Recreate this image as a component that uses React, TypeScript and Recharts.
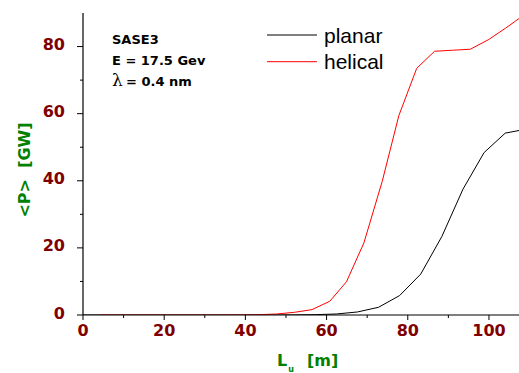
import React from 'react';
import { LineChart, Line, XAxis, YAxis, Legend } from 'recharts';

const planarL = [0, 5.2, 10.4, 15.6, 20.8, 26, 31.2, 36.4, 41.6, 46.8, 52, 57.2, 62.4, 67.6, 72.8, 78, 83.2, 88.4, 93.6, 98.8, 104, 109.2];
const planarP = [0, 0, 0, 0, 0, 0, 0, 0, 0, 0, 0.02, 0.1, 0.3, 0.9, 2.3, 5.8, 12.2, 23.4, 37.5, 48.4, 54.2, 55.4];

const helicalL = [4.2, 8.55, 12.9, 17.25, 21.6, 25.95, 30.3, 34.65, 39, 43.35, 47.7, 52.05, 56.4, 60.8, 64.9, 69.2, 73.7, 77.8, 82.2, 86.6, 91, 95.4, 99.8, 104, 108.5];
const helicalP = [0, 0, 0, 0, 0, 0, 0, 0, 0.02, 0.1, 0.3, 0.8, 1.6, 4.1, 9.9, 21.5, 39.8, 59.4, 73.5, 78.6, 78.9, 79.2, 82.0, 85.4, 89.3];

const seriesNames = ['planar', 'helical'];

const xTicks = [0, 10, 20, 30, 40, 50, 60, 70, 80, 90, 100];
const xMajor = [0, 20, 40, 60, 80, 100];
const yTicks = [0, 10, 20, 30, 40, 50, 60, 70, 80];
const yMajor = [0, 20, 40, 60, 80];

const annotations = ['SASE3', 'E = 17.5 Gev'];

const planarData = planarL.map((l, i) => ({ l, p: planarP[i] }));
const helicalData = helicalL.map((l, i) => ({ l, p: helicalP[i] }));

const FONT = '"DejaVu Sans", Verdana, sans-serif';
const TICK_COLOR = '#800000';
const LABEL_COLOR = '#008000';

const BottomTick = (props: any) => {
  const { x, y, payload } = props;
  const major = xMajor.includes(payload.value);
  return (
    <g>
      <line x1={x} x2={x} y1={y} y2={y + (major ? 5 : 3)} stroke="#000" strokeWidth={1} />
      {major && (
        <text x={x} y={y + 21} textAnchor="middle" fontFamily={FONT} fontWeight="bold" fontSize={16} fill={TICK_COLOR}>
          {payload.value}
        </text>
      )}
    </g>
  );
};

const TopTick = (props: any) => {
  const { x, y, payload } = props;
  const major = xMajor.includes(payload.value);
  return <line x1={x} x2={x} y1={y} y2={y + (major ? 5 : 2)} stroke="#222" strokeWidth={1} />;
};

const LeftTick = (props: any) => {
  const { x, y, payload } = props;
  const major = yMajor.includes(payload.value);
  return (
    <g>
      <line x1={x - (major ? 6 : 3)} x2={x} y1={y} y2={y} stroke="#000" strokeWidth={1} />
      {major && (
        <text x={x - 18} y={y + 3.5} textAnchor="end" fontFamily={FONT} fontWeight="bold" fontSize={16} fill={TICK_COLOR}>
          {payload.value}
        </text>
      )}
    </g>
  );
};

const XLabel = () => (
  <text x={277} y={366} fontFamily={FONT} fontWeight="bold" fontSize={16} fill={LABEL_COLOR}>
    L
    <tspan fontSize={8} dy={6} dx={1}>u</tspan>
    <tspan x={307} dy={-6}>[m]</tspan>
  </text>
);

const YLabel = () => (
  <text
    x={30}
    y={170}
    transform="rotate(-90, 30, 170)"
    textAnchor="middle"
    fontFamily={FONT}
    fontWeight="bold"
    fontSize={16}
    fill={LABEL_COLOR}
  >
    {'<P>\u00A0\u00A0[GW]'}
  </text>
);

const LegendContent = (props: any) => {
  const payload = [...(props.payload || [])].sort(
    (a: any, b: any) => seriesNames.indexOf(a.value) - seriesNames.indexOf(b.value)
  );
  return (
    <svg width={140} height={60} style={{ display: 'block' }}>
      {payload.map((entry: any, i: number) => (
        <g key={entry.value}>
          <line x1={5} x2={55} y1={17 + i * 26.7} y2={17 + i * 26.7} stroke={entry.color} strokeWidth={1} />
          <text x={62} y={24.5 + i * 26} fontFamily='"Liberation Sans", Arial, sans-serif' fontSize={21} fill="#000">
            {entry.value}
          </text>
        </g>
      ))}
    </svg>
  );
};

export default function App() {
  return (
    <div style={{ position: 'absolute', left: 0, top: 0, width: 519, height: 373, background: '#fff' }}>
      <LineChart width={519} height={373} margin={{ top: 13, right: 0, bottom: 0, left: 0 }}>
        <XAxis
          xAxisId="bottom"
          dataKey="l"
          type="number"
          domain={[0, 107.4]}
          allowDataOverflow
          ticks={xTicks}
          orientation="bottom"
          height={58}
          tickSize={0}
          tickMargin={0}
          tickLine={false}
          tick={<BottomTick />}
          axisLine={{ stroke: '#000', strokeWidth: 1.2 }}
          label={<XLabel />}
        />
        <XAxis
          xAxisId="top"
          dataKey="l"
          type="number"
          domain={[0, 107.4]}
          allowDataOverflow
          ticks={xTicks}
          orientation="top"
          height={0}
          tickSize={0}
          tickMargin={0}
          tickLine={false}
          tick={<TopTick />}
          axisLine={{ stroke: '#222', strokeWidth: 1.2 }}
        />
        <YAxis
          type="number"
          domain={[0, 90]}
          allowDataOverflow
          ticks={yTicks}
          width={83}
          tickSize={0}
          tickMargin={0}
          tickLine={false}
          tick={<LeftTick />}
          axisLine={{ stroke: '#000', strokeWidth: 1.2 }}
          label={<YLabel />}
        />
        <Legend
          layout="horizontal"
          verticalAlign="middle"
          align="center"
          content={<LegendContent />}
          wrapperStyle={{ position: 'absolute', left: 262, top: 18, width: 140, height: 60 }}
        />
        <Line
          xAxisId="bottom"
          data={planarData}
          dataKey="p"
          name="planar"
          type="linear"
          stroke="#000000"
          strokeWidth={1}
          dot={false}
          activeDot={false}
          isAnimationActive={false}
        />
        <Line
          xAxisId="bottom"
          data={helicalData}
          dataKey="p"
          name="helical"
          type="linear"
          stroke="#ff0000"
          strokeWidth={1}
          dot={false}
          activeDot={false}
          isAnimationActive={false}
        />
      </LineChart>
      <svg width={519} height={373} style={{ position: 'absolute', left: 0, top: 0, pointerEvents: 'none' }}>
        {annotations.map((t, i) => (
          <text key={t} x={112} y={44 + i * 21} fontFamily={FONT} fontWeight="bold" fontSize={13} fill="#000">
            {t}
          </text>
        ))}
        <text x={112} y={86} fontFamily={FONT} fontSize={13} fill="#000">
          <tspan fontFamily='"DejaVu Serif", "Liberation Serif", serif' fontSize={17}>λ</tspan>
          <tspan fontWeight="bold" x={126}>= 0.4 nm</tspan>
        </text>
      </svg>
    </div>
  );
}
